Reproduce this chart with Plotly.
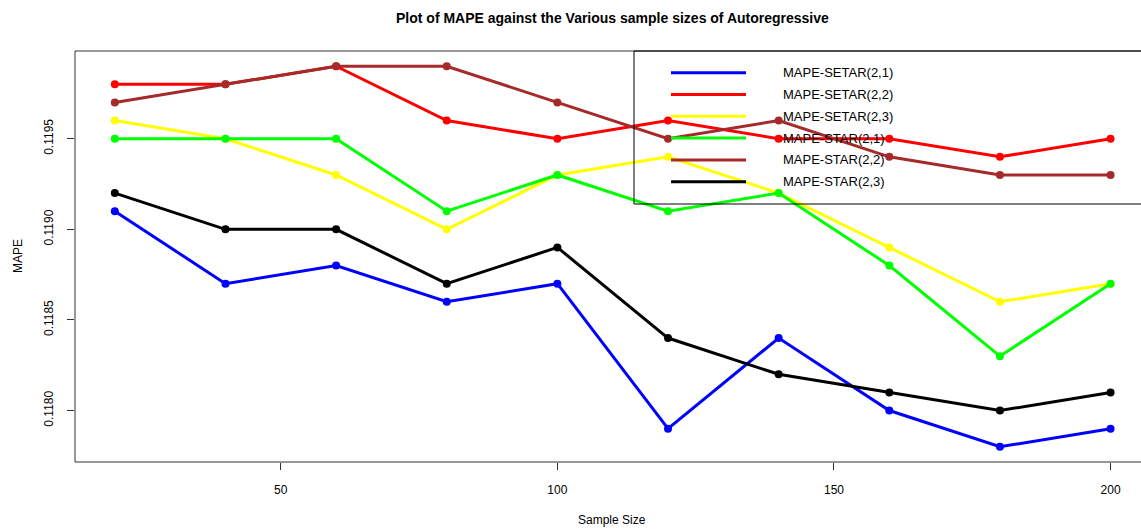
import plotly.graph_objects as go

sample_size = [20, 40, 60, 80, 100, 120, 140, 160, 180, 200]
setar_21 = [0.1191, 0.1187, 0.1188, 0.1186, 0.1187, 0.1179, 0.1184, 0.1180, 0.1178, 0.1179]
setar_22 = [0.1198, 0.1198, 0.1199, 0.1196, 0.1195, 0.1196, 0.1195, 0.1195, 0.1194, 0.1195]
setar_23 = [0.1196, 0.1195, 0.1193, 0.1190, 0.1193, 0.1194, 0.1192, 0.1189, 0.1186, 0.1187]
star_21 = [0.1195, 0.1195, 0.1195, 0.1191, 0.1193, 0.1191, 0.1192, 0.1188, 0.1183, 0.1187]
star_22 = [0.1197, 0.1198, 0.1199, 0.1199, 0.1197, 0.1195, 0.1196, 0.1194, 0.1193, 0.1193]
star_23 = [0.1192, 0.1190, 0.1190, 0.1187, 0.1189, 0.1184, 0.1182, 0.1181, 0.1180, 0.1181]

series_names = ["MAPE-SETAR(2,1)", "MAPE-SETAR(2,2)", "MAPE-SETAR(2,3)",
                "MAPE-STAR(2,1)", "MAPE-STAR(2,2)", "MAPE-STAR(2,3)"]
series_values = [setar_21, setar_22, setar_23, star_21, star_22, star_23]
series_colors = ["#0000FF", "#FF0000", "#FFFF00", "#00FF00", "#A52A2A", "#000000"]

y_ticks = [0.1180, 0.1185, 0.1190, 0.1195]
x_ticks = [50, 100, 150, 200]

W, H = 1141, 530
L, R, T, B = 75, 0, 51, 68
PW, PH = W - L - R, H - T - B

def px_x(px):
    return (px - L) / PW

def px_y(py):
    return (H - B - py) / PH

FONT = "Liberation Sans, Arial, sans-serif"

fig = go.Figure()
for name, vals, col in zip(series_names, series_values, series_colors):
    fig.add_trace(go.Scatter(
        x=sample_size, y=vals, mode="lines+markers", name=name,
        line=dict(color=col, width=3),
        marker=dict(color=col, size=8),
        showlegend=False,
    ))

shapes = []
annotations = []
# plot frame (right side clipped beyond the page)
shapes.append(dict(type="rect", xref="paper", yref="paper", x0=0, x1=1.05, y0=0, y1=1,
                   line=dict(color="#333333", width=1), fillcolor="rgba(0,0,0,0)", layer="above"))
# custom legend box
shapes.append(dict(type="rect", xref="paper", yref="paper",
                   x0=px_x(634), x1=px_x(1160), y0=px_y(204), y1=px_y(51),
                   line=dict(color="#000000", width=1), fillcolor="rgba(0,0,0,0)", layer="above"))
for i, (name, col) in enumerate(zip(series_names, series_colors)):
    yy = 72.7 + i * 21.8
    shapes.append(dict(type="line", xref="paper", yref="paper",
                       x0=px_x(671), x1=px_x(746), y0=px_y(yy), y1=px_y(yy),
                       line=dict(color=col, width=3), layer="above"))
    annotations.append(dict(xref="paper", yref="paper", x=px_x(781), y=px_y(yy),
                            text=name, showarrow=False, xanchor="left", yanchor="middle",
                            font=dict(family=FONT, size=13, color="#000000")))

annotations.append(dict(xref="paper", yref="paper", x=px_x(612), y=px_y(18),
                        text="<b>Plot of MAPE against the Various sample sizes of Autoregressive</b>",
                        showarrow=False, xanchor="center", yanchor="middle",
                        font=dict(family=FONT, size=14, color="#000000")))
annotations.append(dict(xref="paper", yref="paper", x=px_x(612), y=px_y(520),
                        text="Sample Size", showarrow=False, xanchor="center", yanchor="middle",
                        font=dict(family=FONT, size=12, color="#000000")))
annotations.append(dict(xref="paper", yref="paper", x=px_x(18), y=px_y(256),
                        text="MAPE", showarrow=False, textangle=-90, xanchor="center", yanchor="middle",
                        font=dict(family=FONT, size=12, color="#000000")))

fig.update_layout(
    width=W, height=H, autosize=False,
    margin=dict(l=L, r=R, t=T, b=B, pad=0),
    paper_bgcolor="white", plot_bgcolor="white",
    font=dict(family=FONT, size=12, color="#000000"),
    shapes=shapes, annotations=annotations,
    showlegend=False,
)
fig.update_xaxes(
    range=[12.8, 205.5], tickvals=x_ticks, ticktext=[str(v) for v in x_ticks],
    showgrid=False, zeroline=False, showline=False,
    ticks="outside", ticklen=7, tickcolor="#333333", tickwidth=1,
    ticklabelstandoff=10, tickfont=dict(size=12),
)
fig.update_yaxes(
    range=[0.117716, 0.119984], tickvals=y_ticks, ticktext=[f"{v:.4f}" for v in y_ticks],
    showgrid=False, zeroline=False, showline=False,
    ticks="outside", ticklen=7, tickcolor="#333333", tickwidth=1,
    tickangle=-90, ticklabelstandoff=9, tickfont=dict(size=12),
)

fig.write_html("out.html")
